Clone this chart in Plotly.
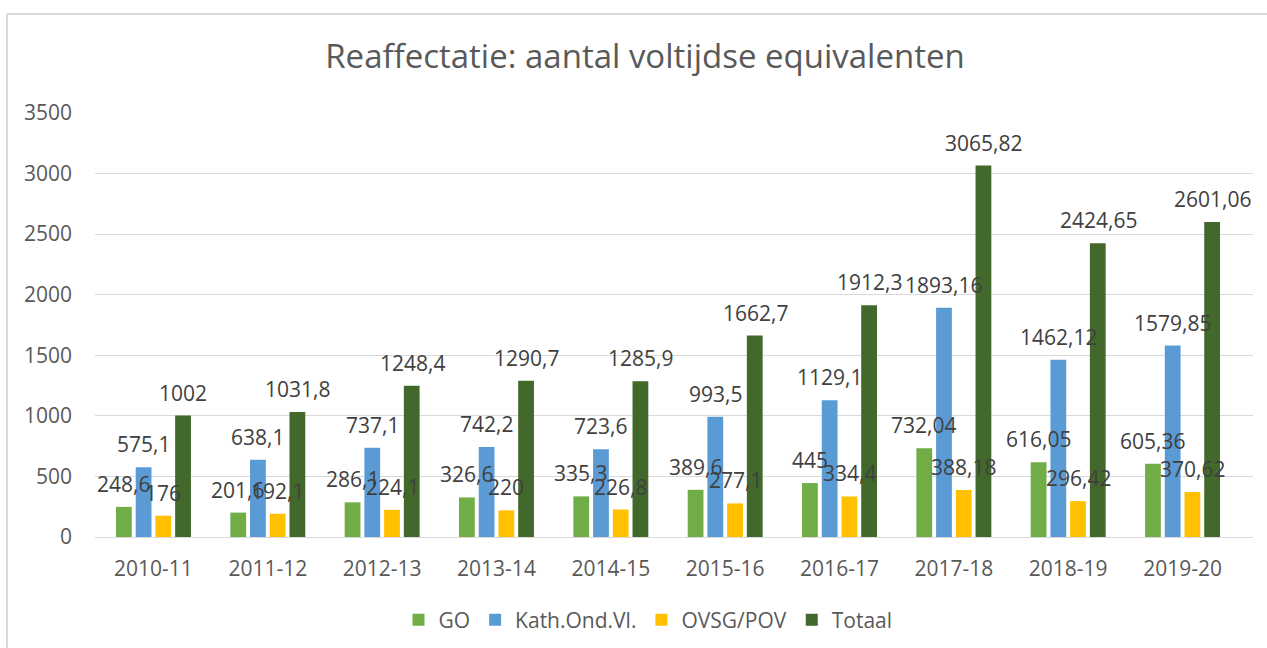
import plotly.graph_objects as go

categories = ["2010-11", "2011-12", "2012-13", "2013-14", "2014-15",
              "2015-16", "2016-17", "2017-18", "2018-19", "2019-20"]
go_vals = [248.6, 201.6, 286.1, 326.6, 335.3, 389.6, 445, 732.04, 616.05, 605.36]
kath_vals = [575.1, 638.1, 737.1, 742.2, 723.6, 993.5, 1129.1, 1893.16, 1462.12, 1579.85]
ovsg_vals = [176, 192.1, 224.1, 220, 226.8, 277.1, 334.4, 388.18, 296.42, 370.62]
totaal_vals = [1002, 1031.8, 1248.4, 1290.7, 1285.9, 1662.7, 1912.3, 3065.82, 2424.65, 2601.06]
y_ticks = [0, 500, 1000, 1500, 2000, 2500, 3000, 3500]

series = [
    ("GO", go_vals, "#70ad47"),
    ("Kath.Ond.Vl.", kath_vals, "#5b9bd5"),
    ("OVSG/POV", ovsg_vals, "#ffc000"),
    ("Totaal", totaal_vals, "#43682b"),
]


def fmt(v):
    s = repr(float(v))
    if s.endswith(".0"):
        s = s[:-2]
    return s.replace(".", ",")


FONT = "Open Sans"
W, H = 1267, 648
L, R, T, B = 95, 14, 113, 111
pw, ph = W - L - R, H - T - B
BARGAP, GROUPGAP = 0.31, 0.2


def px(x):
    return (x - L) / pw


def py(y):
    return (H - B - y) / ph


fig = go.Figure()
for name, vals, color in series:
    fig.add_trace(go.Bar(
        name=name, x=categories, y=vals,
        marker=dict(color=color, line=dict(width=0)),
    ))

# data labels drawn on top of all bars (as in the reference)
n = len(series)
slot = pw / len(categories) * (1 - BARGAP) / n
annotations = []
for i, (name, vals, color) in enumerate(series):
    for c, v in zip(categories, vals):
        annotations.append(dict(
            x=c, y=v, xref="x", yref="y", text=fmt(v), showarrow=False,
            xanchor="center", yanchor="bottom",
            xshift=(i - (n - 1) / 2) * slot, yshift=7,
            font=dict(family=FONT, size=21, color="#404040"),
        ))

fig.update_layout(
    width=W, height=H,
    margin=dict(l=L, r=R, t=T, b=B, autoexpand=False),
    paper_bgcolor="white", plot_bgcolor="white",
    barmode="group", bargap=BARGAP, bargroupgap=GROUPGAP,
    title=dict(text="Reaffectatie: aantal voltijdse equivalenten",
               x=645 / W, xref="container", xanchor="center",
               y=1 - 56 / H, yanchor="middle",
               font=dict(family=FONT, size=33, color="#595959")),
    font=dict(family=FONT, color="#595959"),
    legend=dict(orientation="h", x=px(648), xanchor="center",
                y=py(620), yanchor="middle",
                font=dict(family=FONT, size=21, color="#595959"),
                itemwidth=30, traceorder="normal"),
    showlegend=True,
    annotations=annotations,
    shapes=[
        dict(type="line", xref="paper", yref="paper",
             x0=px(7), x1=px(7), y0=py(14), y1=py(660),
             line=dict(color="#d9d9d9", width=2)),
        dict(type="line", xref="paper", yref="paper",
             x0=px(7), x1=px(1280), y0=py(14), y1=py(14),
             line=dict(color="#d9d9d9", width=2)),
    ],
)
fig.update_yaxes(range=[0, 3500], tickvals=y_ticks, showgrid=True,
                 gridcolor="#d9d9d9", gridwidth=1, zeroline=False,
                 showline=False, ticks="", ticklabelstandoff=22,
                 tickfont=dict(family=FONT, size=21, color="#595959"))
fig.update_xaxes(type="category", showline=True, linecolor="#d9d9d9",
                 linewidth=1, ticks="", ticklabelstandoff=13,
                 tickfont=dict(family=FONT, size=21, color="#595959"))

fig.write_html("out.html", config={"displayModeBar": False},
               post_script="document.body.style.margin='0';")
